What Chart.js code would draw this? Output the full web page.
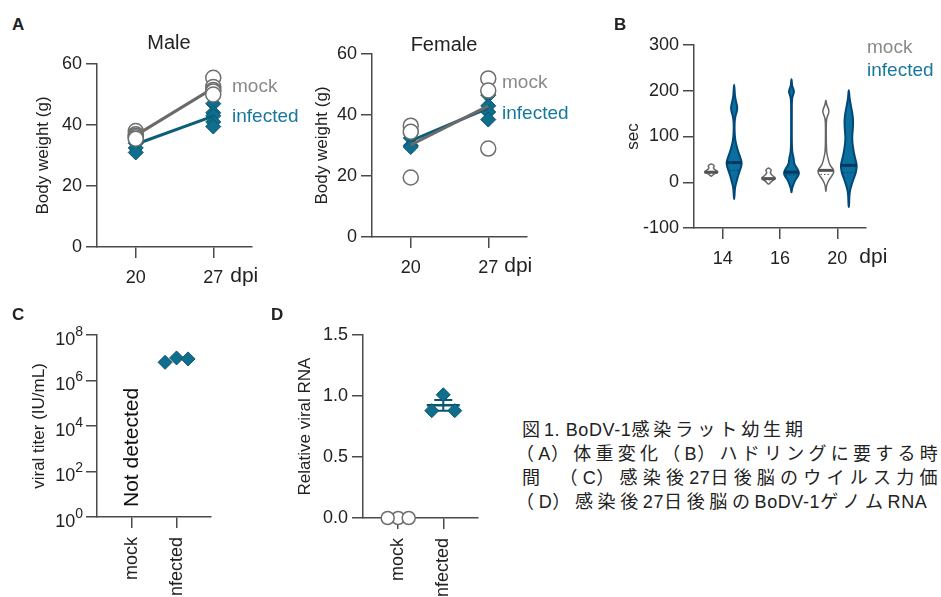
<!DOCTYPE html>
<html>
<head>
<meta charset="utf-8">
<script src="https://cdn.jsdelivr.net/npm/chart.js@4.4.1/dist/chart.umd.min.js"></script>
<style>
  body { margin: 0; background: #fff; width: 941px; height: 597px; overflow: hidden; position: relative;
         font-family: "Liberation Sans", Arial, Helvetica, sans-serif; }
  canvas { position: absolute; }
  .t { position: absolute; line-height: 1; white-space: nowrap; color: #222; }
  .cap { position: absolute; line-height: 1; white-space: nowrap; color: #222;
         font-family: "Liberation Sans", "Noto Sans CJK JP", sans-serif; font-size: 18px; }
</style>
</head>
<body>
<canvas id="male" width="300" height="260" style="left:0;top:40px"></canvas>
<canvas id="female" width="260" height="260" style="left:290px;top:30px"></canvas>
<canvas id="huddle" width="290" height="250" style="left:600px;top:30px"></canvas>
<canvas id="titer" width="240" height="287" style="left:0;top:310px"></canvas>
<canvas id="rna" width="250" height="287" style="left:260px;top:310px"></canvas>

<div class="t" style="left:12px;top:16px;font-size:17px;font-weight:bold">A</div>
<div class="t" style="left:614px;top:16px;font-size:17px;font-weight:bold">B</div>
<div class="t" style="left:12px;top:306px;font-size:17px;font-weight:bold">C</div>
<div class="t" style="left:271px;top:306px;font-size:17px;font-weight:bold">D</div>

<div class="t" style="left:169px;top:32px;font-size:20px;transform:translateX(-50%)">Male</div>
<div class="t" style="left:444px;top:34px;font-size:20px;transform:translateX(-50%)">Female</div>

<div class="t" style="left:232px;top:76px;font-size:19px;color:#8a8a8a">mock</div>
<div class="t" style="left:232px;top:106px;font-size:19px;color:#16779f">infected</div>
<div class="t" style="left:502px;top:72px;font-size:19px;color:#8a8a8a">mock</div>
<div class="t" style="left:502px;top:103px;font-size:19px;color:#16779f">infected</div>
<div class="t" style="left:867px;top:37px;font-size:19px;color:#8a8a8a">mock</div>
<div class="t" style="left:867px;top:60px;font-size:19px;color:#16779f">infected</div>

<script>
// ---- data ----
const days = ['20', '27'];
const weightTicks = [0, 20, 40, 60];
// body weight (g) per animal, one array per day
const maleMock = [[38, 37, 36.5, 36, 35.5], [55.5, 52.5, 51.5, 51, 50]];
const maleInfected = [[36, 35, 34, 32.5, 31], [47, 44, 43, 41, 39.5]];
const femaleMock = [[36.5, 34.5, 19.5], [52, 48, 29]];
const femaleInfected = [[34, 32.5, 30, 29.5], [46.5, 43, 41, 38.5]];

// huddling time (sec): violin outlines as [value, relative density]
const hudDays = ['14', '16', '20'];
const secTicks = [-100, 0, 100, 200, 300];
const mockViolins = [
  [[40, 0.05], [38, 0.3], [35, 0.4], [32, 0.25], [29, 0.35], [26, 0.6], [23, 0.85], [21, 0.8], [19, 0.45], [16, 0.2], [13, 0.05]],
  [[31, 0.05], [28, 0.3], [25, 0.35], [22, 0.2], [18, 0.3], [14, 0.55], [10, 0.85], [7, 0.85], [4, 0.5], [0, 0.25], [-4, 0.05]],
  [[179, 0.04], [170, 0.08], [162, 0.3], [155, 0.4], [148, 0.3], [140, 0.08], [120, 0.04], [90, 0.05], [70, 0.08], [60, 0.15],
   [50, 0.3], [42, 0.4], [35, 0.6], [28, 0.95], [22, 1.0], [15, 0.8], [8, 0.5], [2, 0.3], [-5, 0.12], [-12, 0.05], [-20, 0.03]]
];
const mockMedian = [22, 8, 26];
const mockQ1 = [19, 5, 17];
const infectedViolins = [
  [[213, 0.03], [190, 0.08], [175, 0.25], [165, 0.4], [155, 0.35], [145, 0.15], [130, 0.05], [110, 0.05], [90, 0.15], [80, 0.3],
   [70, 0.45], [60, 0.65], [50, 0.85], [43, 0.95], [35, 0.9], [25, 0.7], [15, 0.5], [5, 0.35], [-5, 0.2], [-15, 0.08], [-37, 0.03]],
  [[225, 0.03], [212, 0.06], [205, 0.2], [198, 0.35], [191, 0.2], [182, 0.05], [150, 0.04], [100, 0.04], [75, 0.06], [63, 0.12],
   [55, 0.25], [48, 0.3], [40, 0.35], [33, 0.6], [26, 0.85], [20, 0.95], [14, 0.85], [7, 0.55], [0, 0.35], [-7, 0.2], [-14, 0.06], [-22, 0.03]],
  [[201, 0.03], [185, 0.08], [168, 0.25], [150, 0.45], [135, 0.55], [115, 0.5], [96, 0.4], [80, 0.5], [66, 0.62], [55, 0.75],
   [45, 0.9], [37, 1.0], [28, 0.95], [19, 0.85], [10, 0.65], [0, 0.45], [-8, 0.3], [-18, 0.15], [-28, 0.08], [-40, 0.05], [-54, 0.03]]
];
const infectedMedian = [43, 22, 37];
const infectedQ1 = [26, 16, 21];

// viral titer and relative RNA
const groups = ['mock', 'infected'];
const titerTicks = [1, 1e2, 1e4, 1e6, 1e8];
const titerInfected = [9.8e6, 6.3e6, 8.9e6];
const rnaTicks = [0, 0.5, 1.0, 1.5];
const rnaMock = [0, 0, 0];
const rnaInfected = [1.01, 0.88, 0.88];

// ---- styles ----
Chart.defaults.font.family = '"Liberation Sans", Arial, Helvetica, sans-serif';
Chart.defaults.color = '#222';
const INK = '#222';
const AXIS = '#4a4a4a';
const GREY = '#6e6e6e';
const TEAL = '#0e6e8c';
const TEAL_DARK = '#0a5570';

const mean = a => a.reduce((s, v) => s + v, 0) / a.length;
const sem = a => {
  const m = mean(a);
  return Math.sqrt(a.reduce((s, v) => s + (v - m) ** 2, 0) / (a.length - 1)) / Math.sqrt(a.length);
};

const grid = () => ({ display: true, drawOnChartArea: false, drawTicks: true, tickLength: 11, color: AXIS, lineWidth: 1.5, offset: false });
const border = () => ({ display: true, color: AXIS, width: 1.5 });
const yTitle = (text, pad) => ({ display: true, text: text, color: INK, font: { size: 17 }, padding: { top: pad, bottom: 0 } });

// "dpi" written after the last x tick label
const dpiLabel = {
  id: 'dpi',
  afterDraw(chart, args, opts) {
    const x = chart.scales.x, ctx = chart.ctx;
    const last = x.ticks.length - 1;
    const px = x.getPixelForTick(last);
    ctx.save();
    ctx.font = '18px "Liberation Sans", Arial, sans-serif';
    const w = ctx.measureText(String(x.ticks[last].label)).width;
    ctx.font = '21px "Liberation Sans", Arial, sans-serif';
    ctx.fillStyle = INK;
    ctx.textBaseline = 'alphabetic';
    ctx.fillText('dpi', px + w / 2 + opts.gap, chart.chartArea.bottom + 35);
    ctx.restore();
  }
};

// spread points of one group sideways so they do not overlap
const swarm = {
  id: 'swarm',
  afterDatasetsUpdate(chart) {
    chart.data.datasets.forEach((ds, i) => {
      if (!ds.swarm) return;
      const placed = [];
      chart.getDatasetMeta(i).data.forEach(p => {
        for (let k = 0; k < 11; k++) {
          const off = (k === 0 ? 0 : (k % 2 ? -1 : 1) * Math.ceil(k / 2)) * ds.swarm.step;
          const x = p.x + off;
          if (placed.every(q => Math.hypot(q.x - x, q.y - p.y) >= ds.swarm.gap)) {
            p.x = x;
            placed.push({ x: x, y: p.y });
            break;
          }
        }
      });
    });
  }
};

function weightChart(id, mock, infected, box) {
  const toPoints = sets => sets.flatMap((vals, i) => vals.map(v => ({ x: days[i], y: v })));
  const toMeans = sets => sets.map((vals, i) => ({ x: days[i], y: mean(vals) }));
  return new Chart(document.getElementById(id), {
    type: 'line',
    data: {
      labels: days,
      datasets: [
        { label: 'mock', data: toPoints(mock), showLine: false, pointStyle: 'circle', pointRadius: 7.5,
          pointBackgroundColor: '#fff', pointBorderColor: GREY, pointBorderWidth: 1.5, order: 0, clip: false },
        { label: 'mock mean', data: toMeans(mock), borderColor: '#6a6a6a', borderWidth: 3, pointRadius: 0, order: 1, clip: false },
        { label: 'infected mean', data: toMeans(infected), borderColor: '#0c5d79', borderWidth: 3, pointRadius: 0, order: 2, clip: false },
        { label: 'infected', data: toPoints(infected), showLine: false, pointStyle: 'rectRot', pointRadius: 7.5,
          pointBackgroundColor: TEAL, pointBorderColor: TEAL_DARK, pointBorderWidth: 1, order: 3, clip: false }
      ]
    },
    options: {
      responsive: false, animation: false, devicePixelRatio: 1,
      layout: { padding: { top: box.top, right: box.right, left: 0, bottom: 0 } },
      plugins: { legend: { display: false }, tooltip: { enabled: false }, dpi: { gap: box.gap } },
      scales: {
        x: { type: 'category', offset: true, grid: grid(), border: border(),
             ticks: { font: { size: 18 }, padding: 9, color: INK },
             afterFit: s => { s.height = box.xh; } },
        y: { min: weightTicks[0], max: weightTicks[weightTicks.length - 1], grid: grid(), border: border(),
             ticks: { stepSize: weightTicks[1] - weightTicks[0], font: { size: 18 }, padding: 4, color: INK },
             title: yTitle('Body weight (g)', box.titlePad),
             afterFit: s => { s.width = box.yw; } }
      }
    },
    plugins: [dpiLabel]
  });
}

weightChart('male', maleMock, maleInfected, { top: 24, right: 48, xh: 53, yw: 97, titlePad: 33, gap: 7 });
weightChart('female', femaleMock, femaleInfected, { top: 24, right: 23, xh: 53, yw: 82, titlePad: 22, gap: 6 });

// ---- B: violins ----
function widthAt(profile, v) {
  for (let i = 0; i < profile.length - 1; i++) {
    const [v0, w0] = profile[i], [v1, w1] = profile[i + 1];
    if ((v - v0) * (v - v1) <= 0) return v0 === v1 ? w0 : w0 + (w1 - w0) * (v - v0) / (v1 - v0);
  }
  return 0;
}
function smoothClosed(ctx, pts) {
  const n = pts.length;
  const mid = (a, b) => [(a[0] + b[0]) / 2, (a[1] + b[1]) / 2];
  const m0 = mid(pts[n - 1], pts[0]);
  ctx.moveTo(m0[0], m0[1]);
  for (let i = 0; i < n; i++) {
    const p = pts[i], m = mid(p, pts[(i + 1) % n]);
    ctx.quadraticCurveTo(p[0], p[1], m[0], m[1]);
  }
  ctx.closePath();
}
const violinPlugin = {
  id: 'violins',
  afterDatasetsDraw(chart) {
    const { ctx, scales: { x, y } } = chart;
    const step = x.getPixelForValue(1) - x.getPixelForValue(0);
    const half = 8;
    const sets = [
      { profiles: mockViolins, med: mockMedian, q1: mockQ1, side: -1, fill: '#fff', stroke: '#666', mid: '#555', lw: 1.5 },
      { profiles: infectedViolins, med: infectedMedian, q1: infectedQ1, side: 1, fill: '#0b6f9e', stroke: '#01477a', mid: '#02385f', lw: 2 }
    ];
    ctx.save();
    sets.forEach(g => {
      g.profiles.forEach((prof, i) => {
        const cx = x.getPixelForValue(i) + g.side * 0.2 * step;
        const right = prof.map(([v, w]) => [cx + w * half, y.getPixelForValue(v)]);
        const left = prof.slice().reverse().map(([v, w]) => [cx - w * half, y.getPixelForValue(v)]);
        ctx.beginPath();
        smoothClosed(ctx, right.concat(left));
        ctx.fillStyle = g.fill;
        ctx.fill();
        ctx.lineWidth = g.lw;
        ctx.strokeStyle = g.stroke;
        ctx.stroke();
        // median
        const wm = widthAt(prof, g.med[i]) * half;
        const ym = y.getPixelForValue(g.med[i]);
        ctx.beginPath();
        ctx.moveTo(cx - wm, ym);
        ctx.lineTo(cx + wm, ym);
        ctx.lineWidth = 3;
        ctx.strokeStyle = g.mid;
        ctx.stroke();
        // lower quartile, dotted
        const wq = widthAt(prof, g.q1[i]) * half - 1.5;
        const yq = y.getPixelForValue(g.q1[i]);
        ctx.beginPath();
        ctx.setLineDash([1.5, 2]);
        ctx.moveTo(cx - wq, yq);
        ctx.lineTo(cx + wq, yq);
        ctx.lineWidth = 1;
        ctx.strokeStyle = g.mid;
        ctx.stroke();
        ctx.setLineDash([]);
      });
    });
    ctx.restore();
  }
};

new Chart(document.getElementById('huddle'), {
  type: 'line',
  data: { labels: hudDays, datasets: [] },
  options: {
    responsive: false, animation: false, devicePixelRatio: 1,
    layout: { padding: { top: 15, right: 24, left: 0, bottom: 0 } },
    plugins: { legend: { display: false }, tooltip: { enabled: false }, dpi: { gap: 12 } },
    scales: {
      x: { type: 'category', offset: true, grid: grid(), border: border(),
           ticks: { font: { size: 18 }, padding: 9, color: INK },
           afterFit: s => { s.height = 52; } },
      y: { min: secTicks[0], max: secTicks[secTicks.length - 1], grid: grid(), border: border(),
           ticks: { stepSize: secTicks[1] - secTicks[0], font: { size: 18 }, padding: 4, color: INK },
           title: yTitle('sec', 23),
           afterFit: s => { s.width = 94; } }
    }
  },
  plugins: [violinPlugin, dpiLabel]
});

// ---- C: viral titer ----
const logLabels = {
  id: 'logLabels',
  afterDraw(chart) {
    const { ctx, scales: { y } } = chart;
    const xr = y.right - 14;
    ctx.save();
    ctx.fillStyle = INK;
    ctx.textBaseline = 'middle';
    ctx.textAlign = 'right';
    titerTicks.forEach(v => {
      const py = y.getPixelForValue(v);
      const exp = String(Math.round(Math.log10(v)));
      ctx.font = '14px "Liberation Sans", Arial, sans-serif';
      const ew = ctx.measureText(exp).width;
      ctx.fillText(exp, xr, py - 3);
      ctx.font = '18px "Liberation Sans", Arial, sans-serif';
      ctx.fillText('10', xr - ew, py + 5);
    });
    ctx.restore();
  }
};
const notDetected = {
  id: 'notDetected',
  afterDraw(chart) {
    const { ctx, scales: { x, y } } = chart;
    ctx.save();
    ctx.translate(x.getPixelForValue(groups.indexOf('mock')), y.getPixelForValue(titerTicks[0]) - 10);
    ctx.rotate(-Math.PI / 2);
    ctx.font = '21px "Liberation Sans", Arial, sans-serif';
    ctx.fillStyle = '#111';
    ctx.textAlign = 'left';
    ctx.textBaseline = 'middle';
    ctx.fillText('Not detected', 0, 0);
    ctx.restore();
  }
};
const groupAxis = (h) => ({
  type: 'linear', min: -0.78, max: 1.77, grid: grid(), border: border(),
  afterBuildTicks: s => { s.ticks = groups.map((g, i) => ({ value: i })); },
  ticks: { callback: v => groups[v], minRotation: 90, maxRotation: 90, autoSkip: false, font: { size: 18 }, padding: 9, color: INK },
  afterFit: s => { s.height = h; }
});

new Chart(document.getElementById('titer'), {
  type: 'line',
  data: {
    datasets: [
      { label: 'infected', data: titerInfected.map(v => ({ x: groups.indexOf('infected'), y: v })), showLine: false,
        pointStyle: 'rectRot', pointRadius: 7, pointBackgroundColor: TEAL, pointBorderColor: TEAL_DARK, pointBorderWidth: 1,
        clip: false, swarm: { step: 11.5, gap: 11 } }
    ]
  },
  options: {
    responsive: false, animation: false, devicePixelRatio: 1,
    layout: { padding: { top: 25, right: 29, left: 0, bottom: 0 } },
    plugins: { legend: { display: false }, tooltip: { enabled: false } },
    scales: {
      x: groupAxis(80),
      y: { type: 'logarithmic', min: titerTicks[0], max: titerTicks[titerTicks.length - 1], grid: grid(), border: border(),
           afterBuildTicks: s => { s.ticks = titerTicks.map(v => ({ value: v })); },
           ticks: { display: false },
           title: yTitle('viral titer (IU/mL)', 29),
           afterFit: s => { s.width = 97; } }
    }
  },
  plugins: [swarm, logLabels, notDetected]
});

// ---- D: relative viral RNA ----
const meanSem = {
  id: 'meanSem',
  beforeDatasetsDraw(chart) {
    const { ctx, scales: { x, y } } = chart;
    ctx.save();
    ctx.strokeStyle = TEAL_DARK;
    [rnaMock, rnaInfected].forEach((vals, i) => {
      const cx = x.getPixelForValue(i);
      const m = mean(vals), e = sem(vals);
      const ym = y.getPixelForValue(m), yt = y.getPixelForValue(m + e), yb = y.getPixelForValue(m - e);
      ctx.lineWidth = 2.5;
      ctx.beginPath();
      ctx.moveTo(cx - 16.5, ym); ctx.lineTo(cx + 16.5, ym);
      ctx.stroke();
      if (e > 0) {
        ctx.lineWidth = 2;
        ctx.beginPath();
        ctx.moveTo(cx, yt); ctx.lineTo(cx, yb);
        ctx.moveTo(cx - 9, yt); ctx.lineTo(cx + 9, yt);
        ctx.moveTo(cx - 9, yb); ctx.lineTo(cx + 9, yb);
        ctx.stroke();
      }
    });
    ctx.restore();
  }
};

new Chart(document.getElementById('rna'), {
  type: 'line',
  data: {
    datasets: [
      { label: 'mock', data: rnaMock.map(v => ({ x: groups.indexOf('mock'), y: v })), showLine: false,
        pointStyle: 'circle', pointRadius: 6.5, pointBackgroundColor: '#fff', pointBorderColor: GREY, pointBorderWidth: 1.5,
        clip: false, swarm: { step: 10.5, gap: 10 } },
      { label: 'infected', data: rnaInfected.map(v => ({ x: groups.indexOf('infected'), y: v })), showLine: false,
        pointStyle: 'rectRot', pointRadius: 7, pointBackgroundColor: TEAL, pointBorderColor: TEAL_DARK, pointBorderWidth: 1,
        clip: false, swarm: { step: 11.5, gap: 17 } }
    ]
  },
  options: {
    responsive: false, animation: false, devicePixelRatio: 1,
    layout: { padding: { top: 25, right: 32, left: 0, bottom: 0 } },
    plugins: { legend: { display: false }, tooltip: { enabled: false } },
    scales: {
      x: groupAxis(79),
      y: { min: rnaTicks[0], max: rnaTicks[rnaTicks.length - 1], grid: grid(), border: border(),
           ticks: { stepSize: rnaTicks[1] - rnaTicks[0], font: { size: 18 }, padding: 4, color: INK, callback: v => v.toFixed(1) },
           title: yTitle('Relative viral RNA', 35),
           afterFit: s => { s.width = 103; } }
    }
  },
  plugins: [swarm, meanSem]
});

// ---- caption: Latin runs keep normal spacing, Japanese runs are spread to the line width ----
const captionLines = [
  '図1. BoDV-1感染ラット幼生期',
  '（A）体重変化（B）ハドリングに要する時',
  '間　（C）感染後27日後脳のウイルス力価',
  '（D）感染後27日後脳のBoDV-1ゲノムRNA'
];
const captionLeft = [522, 516, 522, 516];
const captionRight = [805, 940, 940, 925];
captionLines.forEach((text, i) => {
  const el = document.createElement('div');
  el.className = 'cap';
  el.style.left = captionLeft[i] + 'px';
  el.style.top = (421 + i * 24) + 'px';
  const wide = [];
  text.match(/[\x20-\x7e]+|[^\x20-\x7e]+/g).forEach(run => {
    const span = document.createElement('span');
    span.textContent = run;
    if (/^[\x20-\x7e]+$/.test(run)) span.style.letterSpacing = '0.6px';
    else wide.push(span);
    el.appendChild(span);
  });
  document.body.appendChild(el);
  const natural = el.getBoundingClientRect().width;
  const n = wide.reduce((s, sp) => s + Array.from(sp.textContent).length, 0);
  const ls = Math.max(0, (captionRight[i] - captionLeft[i] - natural) / (n - 0.5));
  wide.forEach(sp => { sp.style.letterSpacing = ls + 'px'; });
});
</script>
</body>
</html>
